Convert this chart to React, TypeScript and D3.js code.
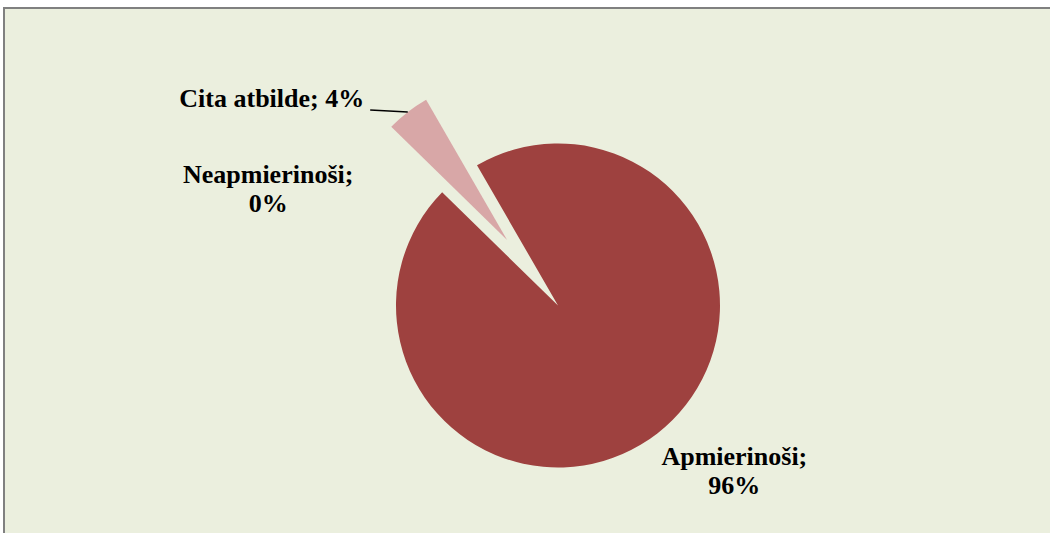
import { useEffect, useRef } from 'react';
import * as d3 from 'd3';

// respondents per answer (shares: ~344° vs ~16°)
const CATEGORIES = ['Apmierinoši', 'Neapmierinoši', 'Cita atbilde'];
const COUNTS = [22, 0, 1];
const COLORS = ['#9E413F', '#9E413F', '#D8A7A7'];
const EXPLODE = [0, 0, 83];

// label placement: offset from the (exploded) outer arc point at each slice's mid angle
const LABEL_OFFSETS: Array<{ dx: number; dy: number; lines: 1 | 2 }> = [
  { dx: 77, dy: 32, lines: 2 },
  { dx: -174, dy: -9, lines: 2 },
  { dx: -136, dy: -5, lines: 1 },
];

const WIDTH = 1050;
const HEIGHT = 533;
const BG = '#EBEFDE';

export default function App() {
  const svgRef = useRef<SVGSVGElement>(null);

  useEffect(() => {
    if (!svgRef.current) return;
    const svg = d3.select(svgRef.current);
    svg.selectAll('*').remove();

    svg.append('rect').attr('width', WIDTH).attr('height', HEIGHT).attr('fill', '#ffffff');
    svg
      .append('rect')
      .attr('x', 4)
      .attr('y', 8)
      .attr('width', WIDTH + 10)
      .attr('height', HEIGHT + 10)
      .attr('fill', BG)
      .attr('stroke', '#808080')
      .attr('stroke-width', 2);

    const cx = 558;
    const cy = 305.5;
    const radius = 162;

    const total = d3.sum(COUNTS);
    const start = (-30 * Math.PI) / 180;
    const pie = d3
      .pie<number>()
      .sort(null)
      .startAngle(start)
      .endAngle(start + 2 * Math.PI)(COUNTS);

    const arc = d3.arc<d3.PieArcDatum<number>>().innerRadius(0).outerRadius(radius);

    const g = svg.append('g').attr('transform', `translate(${cx},${cy})`);

    const polar = (r: number, a: number): [number, number] => [r * Math.sin(a), -r * Math.cos(a)];

    pie.forEach((slice, i) => {
      if (slice.value === 0) return;
      const mid = (slice.startAngle + slice.endAngle) / 2;
      const [ox, oy] = polar(EXPLODE[i], mid);
      g.append('path')
        .attr('d', arc(slice) as string)
        .attr('transform', `translate(${ox},${oy})`)
        .attr('fill', COLORS[i]);
    });

    const fmt = (v: number) => `${Math.round((v / total) * 100)}%`;

    pie.forEach((slice, i) => {
      const mid = (slice.startAngle + slice.endAngle) / 2;
      const [px, py] = polar(radius + EXPLODE[i], mid);
      const off = LABEL_OFFSETS[i];
      const lx = px + off.dx;
      const ly = py + off.dy;
      const text = g
        .append('text')
        .attr('x', lx)
        .attr('y', ly)
        .attr('text-anchor', 'middle')
        .attr('font-family', '"Liberation Serif", "Times New Roman", serif')
        .attr('font-weight', 'bold')
        .attr('font-size', 26)
        .attr('fill', '#000');
      if (off.lines === 2) {
        text.append('tspan').attr('x', lx).text(`${CATEGORIES[i]};`);
        text.append('tspan').attr('x', lx).attr('dy', 29).text(fmt(slice.value));
      } else {
        text.text(`${CATEGORIES[i]}; ${fmt(slice.value)}`);
        const w = (text.node() as SVGTextElement).getComputedTextLength();
        // leader line from label end to the exploded slice
        g.append('line')
          .attr('x1', lx + w / 2 + 6)
          .attr('y1', py - 2)
          .attr('x2', px)
          .attr('y2', py)
          .attr('stroke', '#000')
          .attr('stroke-width', 1.6);
      }
    });
  }, []);

  return (
    <svg
      ref={svgRef}
      width={WIDTH}
      height={HEIGHT}
      style={{ position: 'absolute', left: 0, top: 0, display: 'block' }}
    />
  );
}
